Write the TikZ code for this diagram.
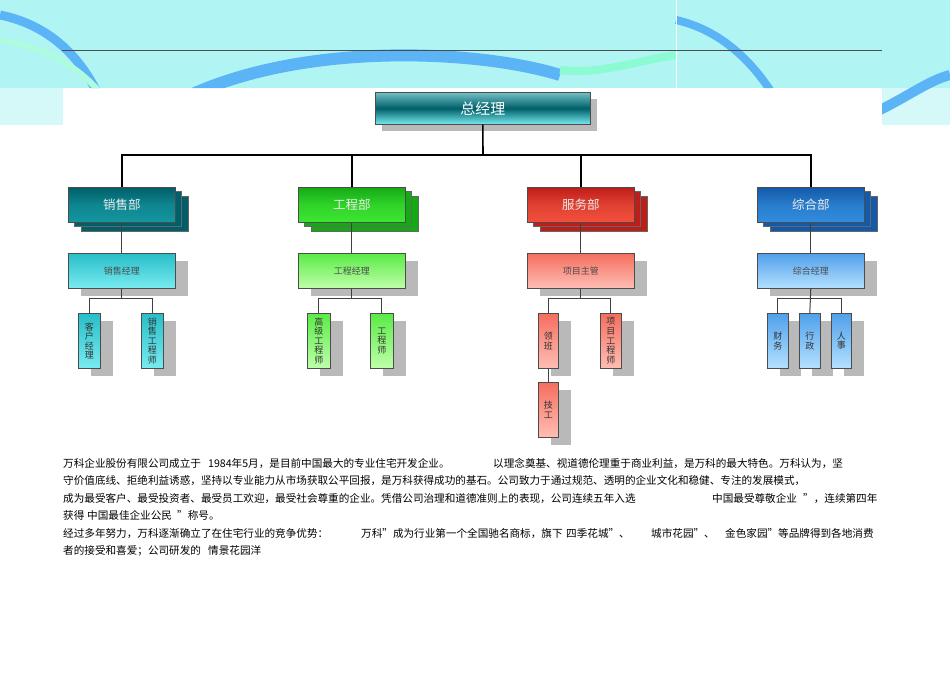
\documentclass[tikz,border=0pt]{standalone}
\usepackage{fontspec}
\setmainfont{Noto Sans CJK SC}
\usetikzlibrary{positioning}
\definecolor{tealD}{RGB}{0,95,105}\definecolor{tealM}{RGB}{20,150,160}
\definecolor{cyanL}{RGB}{40,190,200}\definecolor{cyanU}{RGB}{120,235,240}
\definecolor{grnD}{RGB}{20,170,20}\definecolor{grnM}{RGB}{60,230,50}
\definecolor{grnL}{RGB}{90,235,70}\definecolor{grnU}{RGB}{190,255,170}
\definecolor{redD}{RGB}{190,30,25}\definecolor{redM}{RGB}{240,80,60}
\definecolor{redL}{RGB}{245,110,95}\definecolor{redU}{RGB}{255,190,180}
\definecolor{bluD}{RGB}{20,90,170}\definecolor{bluM}{RGB}{50,140,220}
\definecolor{bluL}{RGB}{80,160,235}\definecolor{bluU}{RGB}{180,225,255}
\definecolor{shd}{RGB}{185,185,185}
\definecolor{bgA}{RGB}{150,240,240}\definecolor{bgB}{RGB}{90,180,245}\definecolor{bgC}{RGB}{140,250,210}
\tikzset{
 x=1pt,y=-1pt,
 bx/.style={draw=black!70,line width=0.6pt,inner sep=0pt,anchor=north west},
 wline/.style={line width=1.6pt,black},
 thin/.style={line width=1pt,black!75},
 lbl/.style={text=white!92!black,font=\fontsize{12.5}{12.5}\selectfont},
 mlbl/.style={font=\fontsize{9}{9}\selectfont,text=black!70},
 slbl/.style={font=\fontsize{9}{9.6}\selectfont,text=black!80,align=center},
 para/.style={anchor=base west,inner sep=0pt,font=\fontsize{10.6}{10.6}\selectfont}
}
\newcommand{\deptbox}[6]{%
 \foreach \o in {13,6.5}{\fill[#4,draw=black!60] (#2+\o,#3+\o*0.7) rectangle ++(107,35);}
 \node[bx,minimum width=107pt,minimum height=35pt,top color=#4,bottom color=#5,middle color=#5!70!#4,lbl] (#1) at (#2,#3) {#6};}
\newcommand{\mgrbox}[6]{%
 \fill[shd] (#2+13,#3+8) rectangle ++(107,35);
 \node[bx,minimum width=107pt,minimum height=35pt,top color=#4,bottom color=#5,mlbl] (#1) at (#2,#3) {#6};}
\newcommand{\smbox}[7]{%
 \fill[shd] (#2+13,#3+8) rectangle ++(#7,55);
 \node[bx,minimum width=#7pt,minimum height=55pt,top color=#4,bottom color=#5,slbl] (#1) at (#2,#3) {#6};}
\begin{document}
\begin{tikzpicture}
\useasboundingbox (0,0) rectangle (950,672);
\fill[white] (0,0) rectangle (950,672);
\fill[bgA!75!white] (0,0) rectangle (950,88);
\fill[bgA!40!white] (0,88) rectangle (63,125);
\fill[bgA!40!white] (882,88) rectangle (950,125);
\begin{scope}
\clip (0,0) rectangle (950,88) (0,88) rectangle (63,125) (882,88) rectangle (950,125);
\draw[bgB,line width=9pt] (0,15) .. controls (50,25) and (90,60) .. (110,125);
\draw[bgC!70!white,line width=6pt] (0,40) .. controls (60,50) and (100,80) .. (120,125);
\draw[bgB,line width=12pt] (180,100) .. controls (300,40) and (480,50) .. (560,75);
\draw[bgC,line width=8pt] (560,70) .. controls (600,75) and (640,60) .. (676,55);
\draw[bgB,line width=8pt] (676,20) .. controls (720,30) and (750,60) .. (770,90);
\draw[bgB,line width=10pt] (880,110) .. controls (910,95) and (930,80) .. (950,75);
\draw[white,line width=1pt] (676,0) -- (676,88);
\end{scope}
\draw[black!70,line width=0.7pt] (62,50) -- (882,50);
\fill[shd] (382,99) rectangle ++(215,32);
\node[bx,minimum width=215pt,minimum height=32pt,top color=tealM!60!white,bottom color=cyanU,middle color=tealD,text=white,font=\fontsize{15}{15}\selectfont] (gm) at (375,92) {总经理};
\deptbox{d1}{68}{187}{tealD}{tealM}{销售部}
\deptbox{d2}{298}{187}{grnD}{grnM}{工程部}
\deptbox{d3}{527}{187}{redD}{redM}{服务部}
\deptbox{d4}{757}{187}{bluD}{bluM}{综合部}
\coordinate (bus) at (483,155);
\draw[wline] (gm.south) -- (bus);
\draw[wline] (d1.north) |- (bus) -| (d4.north);
\draw[wline] (d2.north) -- (d2.north|-bus);
\draw[wline] (d3.north) -- (d3.north|-bus);
\mgrbox{m1}{68}{253}{cyanL}{cyanU}{销售经理}
\mgrbox{m2}{298}{253}{grnL}{grnU}{工程经理}
\mgrbox{m3}{527}{253}{redL}{redU}{项目主管}
\mgrbox{m4}{757}{253}{bluL}{bluU}{综合经理}
\foreach \i in {1,2,3,4}{\draw[thin] (d\i.south) -- (m\i.north);}
\smbox{s11}{78}{313}{cyanL}{cyanU}{客\\户\\经\\理}{22}
\smbox{s12}{141}{313}{cyanL}{cyanU}{销\\售\\工\\程\\师}{22}
\smbox{s21}{307}{313}{grnL}{grnU}{高\\级\\工\\程\\师}{23}
\smbox{s22}{370}{313}{grnL}{grnU}{工\\程\\师}{23}
\smbox{s31}{538}{313}{redL}{redU}{领\\班}{20}
\smbox{s32}{600}{313}{redL}{redU}{项\\目\\工\\程\\师}{21}
\smbox{s33}{538}{382}{redL}{redU}{技\\工}{20}
\smbox{s41}{767}{313}{bluL}{bluU}{财\\务}{21}
\smbox{s42}{799}{313}{bluL}{bluU}{行\\政}{21}
\smbox{s43}{831}{313}{bluL}{bluU}{人\\事}{20}
\foreach \m/\a/\b in {m1/s11/s12,m2/s21/s22,m3/s31/s32,m4/s41/s43}{
 \draw[thin] (\m.south) -- ++(0,10) coordinate (j\m);
 \draw[thin] (\a.north) |- (j\m) -| (\b.north);}
\draw[thin] (m4.south) -- (s42.north);
\draw[thin] (s31.south) -- (s33.north);
\node[para] (p1a) at (63,467) {万科企业股份有限公司成立于};
\node[para] (p1b) at (208,467) {1984年5月，是目前中国最大的专业住宅开发企业。};
\node[para] (p1c) at (493,467) {以理念奠基、视道德伦理重于商业利益，是万科的最大特色。万科认为，坚};
\node[para] (p2) at (63,484) {守价值底线、拒绝利益诱惑，坚持以专业能力从市场获取公平回报，是万科获得成功的基石。公司致力于通过规范、透明的企业文化和稳健、专注的发展模式，};
\node[para] (p3a) at (63,502) {成为最受客户、最受投资者、最受员工欢迎，最受社会尊重的企业。凭借公司治理和道德准则上的表现，公司连续五年入选};
\node[para] (p3b) at (712,502) {中国最受尊敬企业};
\node[para] (p3c) at (803,502) {”，连续第四年};
\node[para] (p4a) at (63,519) {获得};
\node[para] (p4b) at (87,519) {中国最佳企业公民};
\node[para] (p4c) at (177,519) {”称号。};
\node[para] (p5a) at (63,537) {经过多年努力，万科逐渐确立了在住宅行业的竞争优势：};
\node[para] (p5b) at (361,537) {万科”成为行业第一个全国驰名商标，旗下};
\node[para] (p5c) at (566,537) {四季花城”、};
\node[para] (p5d) at (651,537) {城市花园”、};
\node[para] (p5e) at (725,537) {金色家园”等品牌得到各地消费};
\node[para] (p6a) at (63,554) {者的接受和喜爱；公司研发的};
\node[para] (p6b) at (208,554) {情景花园洋};
\end{tikzpicture}
\end{document}
